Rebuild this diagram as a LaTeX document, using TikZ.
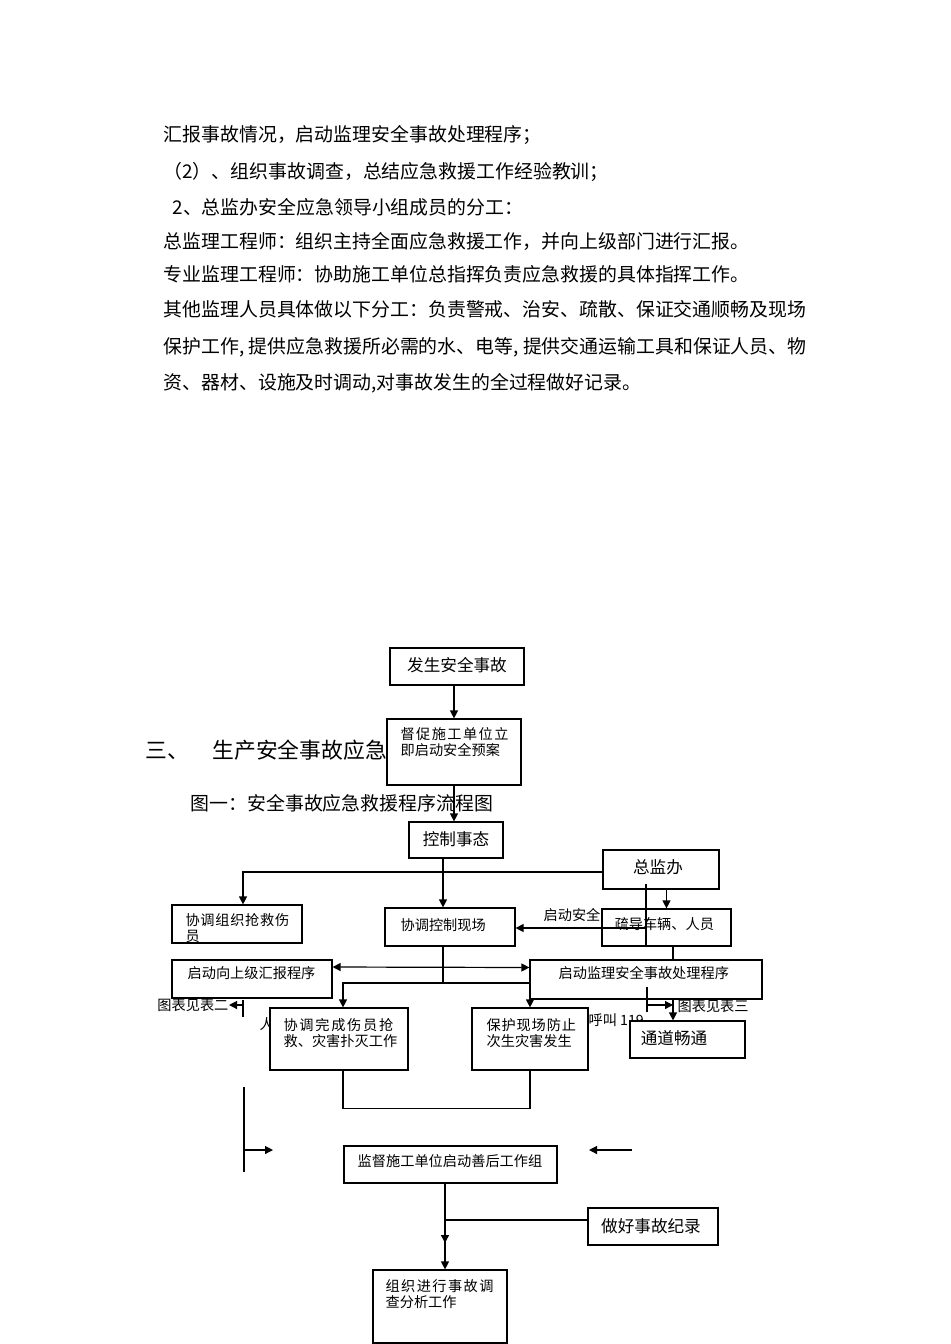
\documentclass[tikz,border=0pt]{standalone}
\usepackage{fontspec}
\usepackage{tikz}
\newfontfamily\cnfont{Noto Sans CJK SC}
\usetikzlibrary{arrows.meta}
\usetikzlibrary{fit}
\tikzset{box/.style = {draw, fill=white, inner sep=0}}
\tikzset{arr/.style = {-{Triangle[length=4pt, width=4pt]}}}
\tikzset{dbl/.style = {{Triangle[length=4pt, width=4pt]}-{Triangle[length=4pt, width=4pt]}}}
\tikzset{bodytxt/.style = {anchor=west, inner sep=0, font=\cnfont\fontsize{9.45}{11}\selectfont}}
\tikzset{smalltxt/.style = {inner sep=0, align=left, font=\cnfont\fontsize{7.1}{8}\selectfont}}
\tikzset{midtxt/.style = {inner sep=0, font=\cnfont\fontsize{8.3}{10}\selectfont}}

\begin{document}
\begin{tikzpicture}[x=0.5pt, y=-0.5pt, line width=0.6pt]
    \useasboundingbox (0,0) rectangle (950,1344);

    \node[bodytxt] (p1) at (163,135) {汇报事故情况，启动监理安全事故处理程序；};
    \node[bodytxt] (p2) at (163,172) {（2）、组织事故调查，总结应急救援工作经验教训；};
    \node[bodytxt] (p3) at (172,207) {2、总监办安全应急领导小组成员的分工：};
    \node[bodytxt] (p4) at (163,241) {总监理工程师：组织主持全面应急救援工作，并向上级部门进行汇报。};
    \node[bodytxt] (p5) at (163,274) {专业监理工程师：协助施工单位总指挥负责应急救援的具体指挥工作。};
    \node[bodytxt] (p6) at (163,309) {其他监理人员具体做以下分工：负责警戒、治安、疏散、保证交通顺畅及现场};
    \node[bodytxt] (p7) at (163,347) {\makebox[321.5pt][l]{保护工作,\hfill 提供应急救援所必需的水、电等,\hfill 提供交通运输工具和保证人员、物}};
    \node[bodytxt] (p8) at (163,383) {资、器材、设施及时调动,对事故发生的全过程做好记录。};

    \node[anchor=west, inner sep=0, font=\cnfont\fontsize{10.9}{12}\selectfont] (hd) at (145,750) {三、\hspace{11.7pt}生产安全事故应急};
    \node[bodytxt] (cap) at (190,803) {图一：安全事故应急救援程序流程图};

    \node[smalltxt, anchor=west] (ren) at (259,1024) {人};
    \node[smalltxt, anchor=west] (hj) at (588,1020) {呼叫 119};

    \node[box, fit={(390,648) (524,685)}] (fa) {};
    \node[box, fit={(387,719) (521,785)}] (db) {};
    \node[box, fit={(409,822) (503,858)}] (kz) {};
    \node[box, fit={(603,850) (719,889)}] (zj) {};
    \node[box, fit={(172,905) (302,943)}] (qs) {};
    \node[box, fit={(385,908) (515,946)}] (xk) {};
    \node[box, fit={(602,909) (731,946)}] (sd) {};
    \node[box, fit={(172,960) (332,998)}] (sb) {};
    \node[box, fit={(530,960) (762,999)}] (jl) {};
    \node[box, fit={(270,1008) (408,1070)}] (xw) {};
    \node[box, fit={(472,1008) (588,1070)}] (bh) {};
    \node[box, fit={(630,1021) (745,1058)}] (td) {};
    \node[box, fit={(344,1146) (557,1183)}] (jd) {};
    \node[box, fit={(588,1208) (718,1245)}] (zh) {};
    \node[box, fit={(373,1270) (507,1343)}] (zz) {};

    \node[midtxt] (fa-t) at (457,665) {发生安全事故};
    \node[smalltxt, anchor=west] (db-t) at (400,742) {{\addfontfeature{LetterSpace=10}督促施工单位立}\\即启动安全预案};
    \node[midtxt] (kz-t) at (456,839) {控制事态};
    \node[midtxt] (zj-t) at (658,867) {总监办};
    \node[smalltxt, anchor=west] (qs-t) at (185,928) {{\addfontfeature{LetterSpace=5}协调组织抢救伤}\\员};
    \node[smalltxt, anchor=west] (xk-t) at (400,925) {协调控制现场};
    \node[smalltxt, anchor=west] (sd-t) at (614,924) {疏导车辆、人员};
    \node[smalltxt, anchor=west] (sb-t) at (187,973) {启动向上级汇报程序};
    \node[smalltxt, anchor=west] (jl-t) at (558,973) {启动监理安全事故处理程序};
    \node[smalltxt, anchor=west] (xw-t) at (283,1033) {{\addfontfeature{LetterSpace=12}协调完成伤员抢}\\救、灾害扑灭工作};
    \node[smalltxt, anchor=west] (bh-t) at (486,1033) {{\addfontfeature{LetterSpace=6}保护现场防止}\\次生灾害发生};
    \node[midtxt] (td-t) at (674,1038) {通道畅通};
    \node[smalltxt] (jd-t) at (450,1161) {监督施工单位启动善后工作组};
    \node[midtxt] (zh-t) at (651,1226) {做好事故纪录};
    \node[smalltxt, anchor=west] (zz-t) at (385,1294) {{\addfontfeature{LetterSpace=10}组织进行事故调}\\查分析工作};

    \node[smalltxt, anchor=west] (qa) at (543,915) {启动安全};
    \node[smalltxt, anchor=east] (t2) at (229,1005) {图表见表二};
    \node[smalltxt, anchor=west] (t3) at (677,1006) {图表见表三};

    \coordinate (trunk) at (443,872);
    \draw[arr] (fa.south -| db.north) -- (db.north);
    \draw[arr] (db.south) -- (db.south |- kz.north);
    \draw[arr] (kz.south -| trunk) -- (trunk |- xk.north);
    \draw[arr] (zj.west |- trunk) -| ([xshift=3pt]qs.north);
    \draw[arr] (zj.south -| sd.north) -- (sd.north);

    \coordinate (qd) at (646,928);
    \draw (qd |- zj.south) ++(0,-6) -- (qd |- sd.south);
    \draw[arr] (qd) -- (qd -| xk.east);

    \coordinate (fork) at (443,983);
    \draw (trunk |- xk.south) -- (fork);
    \draw[arr] (fork) -| ([xshift=2pt]xw.north);
    \draw[arr] (fork) -| (bh.north);
    \draw[dbl] ([yshift=6pt]sb.east) -- ([yshift=6pt]jl.west);

    \coordinate (rx) at (673,1005);
    \draw (rx |- sd.south) -- (rx |- jl.north);
    \draw[arr] (rx |- jl.south) -- (rx |- td.north);
    \coordinate (b3) at (647,1005);
    \draw (b3) ++(0,-18) -- ++(0,25);
    \draw[arr] (b3) -- (rx);

    \coordinate (b2) at (243,1005);
    \draw (b2) ++(0,-5) -- ++(0,17);
    \draw[arr] (b2) -- (t2.east);

    \draw ([xshift=2pt]xw.south) -- ++(0,38) -| (bh.south);

    \coordinate (lb) at (244,1150);
    \draw (lb) ++(0,-63) -- ++(0,85);
    \draw[arr] (lb) -- ++(29,0);
    \coordinate (rb) at (632,1150);
    \draw[arr] (rb) -- ++(-43,0);

    \coordinate (jz) at (445,1220);
    \draw (jz |- jd.south) -- (jz);
    \draw[arr] (jz) -- ++(0,23);
    \draw[arr] (jz) -- (jz |- zz.north);
    \draw (zh.west |- jz) -- (jz);

  \end{tikzpicture}
\end{document}
